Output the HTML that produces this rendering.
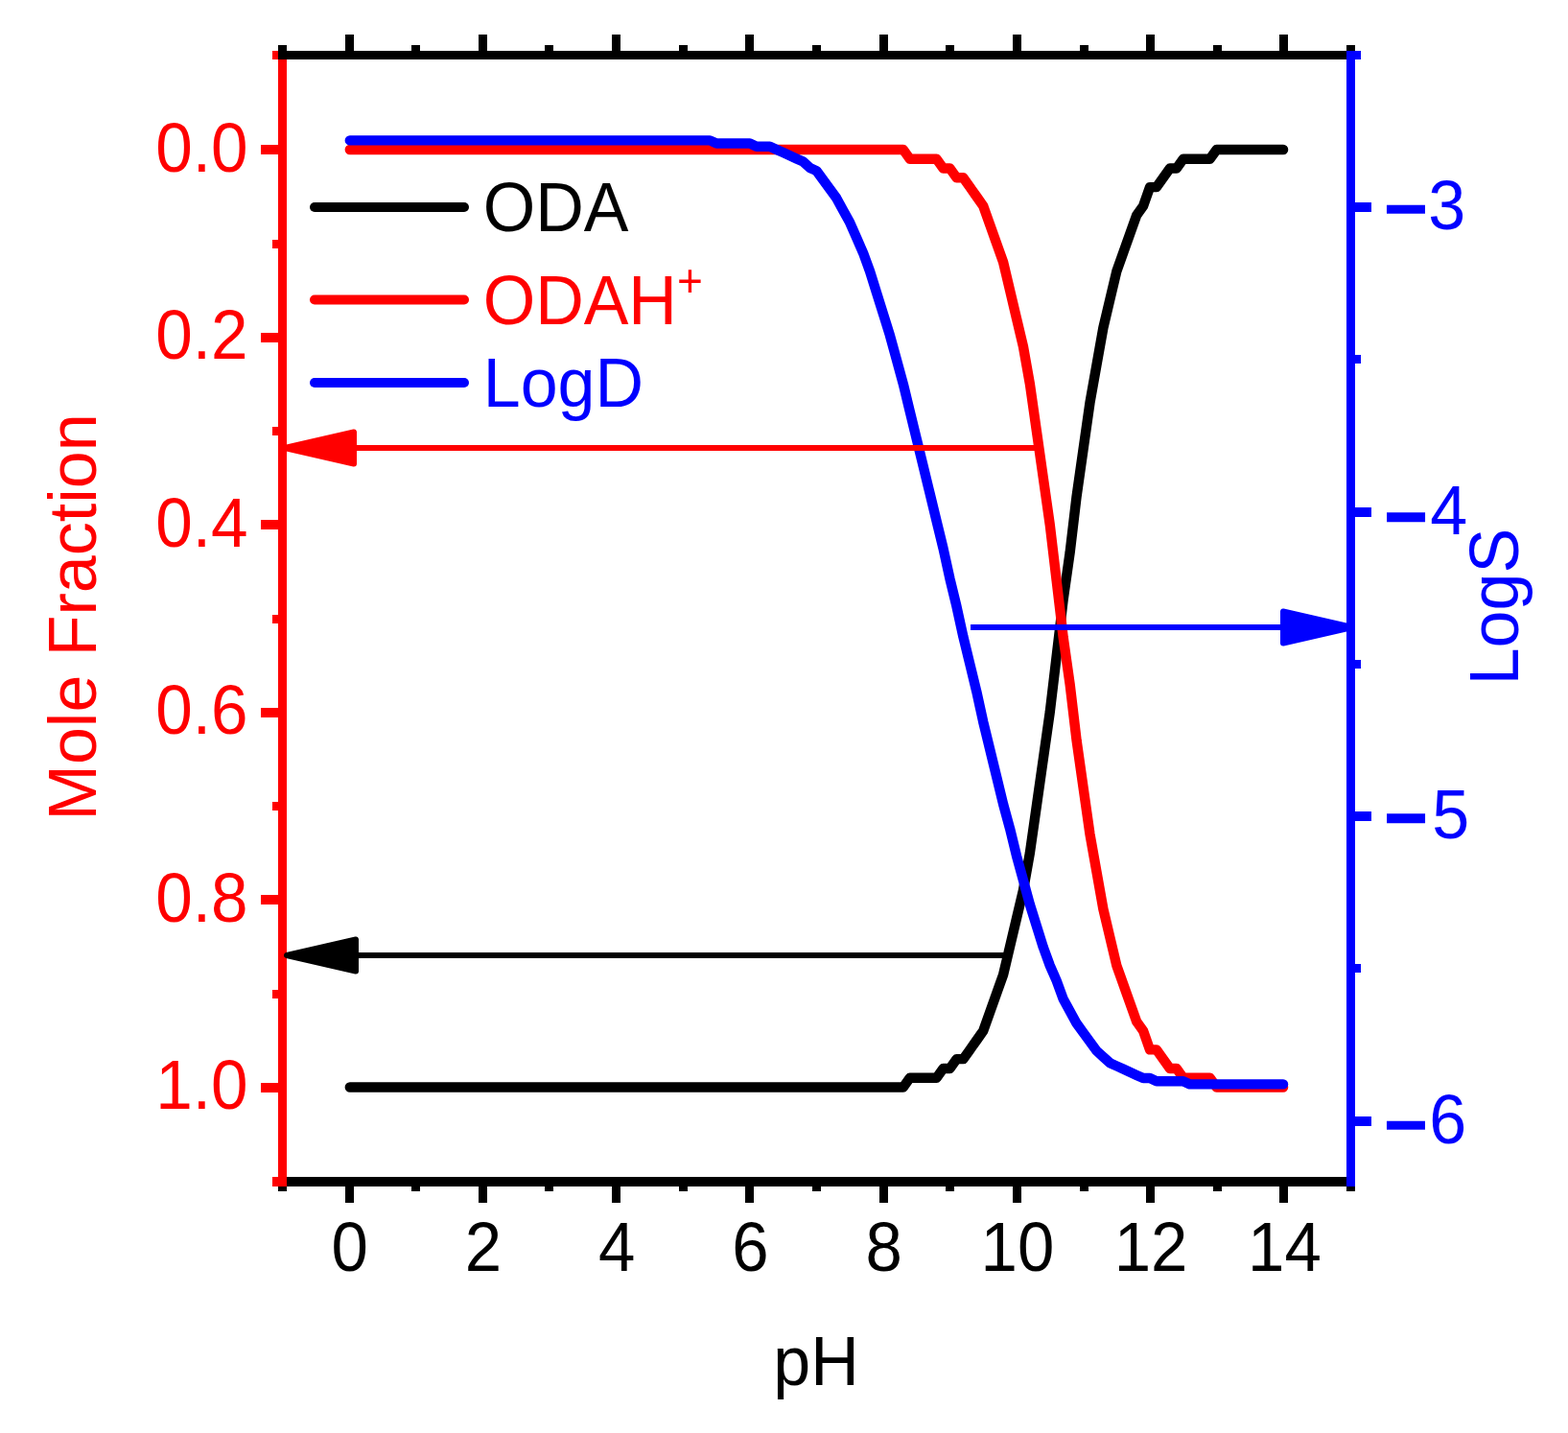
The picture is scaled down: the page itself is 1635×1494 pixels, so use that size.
<!DOCTYPE html>
<html lang="en"><head><meta charset="utf-8"><title>Mole Fraction and LogS vs pH</title>
<style>
html,body{margin:0;padding:0;background:#fff;}
body{width:1635px;height:1494px;overflow:hidden;}
svg{display:block;}
text{font-family:"Liberation Sans",Arial,Helvetica,sans-serif;font-size:70px;}
.c{fill:none;stroke-width:10.4;stroke-linejoin:round;stroke-linecap:round;}
.ax{shape-rendering:crispEdges;}
</style></head><body>
<svg width="1635" height="1494" viewBox="0 0 1635 1494">
<rect width="1635" height="1494" fill="#fff"/>
<g>
<polyline class="c" stroke="#000" points="364.80,1133.50 371.75,1133.50 378.70,1133.50 385.66,1133.50 392.61,1133.50 399.56,1133.50 406.51,1133.50 413.46,1133.50 420.42,1133.50 427.37,1133.50 434.32,1133.50 441.27,1133.50 448.22,1133.50 455.18,1133.50 462.13,1133.50 469.08,1133.50 476.03,1133.50 482.98,1133.50 489.94,1133.50 496.89,1133.50 503.84,1133.50 510.79,1133.50 517.74,1133.50 524.70,1133.50 531.65,1133.50 538.60,1133.50 545.55,1133.50 552.50,1133.50 559.46,1133.50 566.41,1133.50 573.36,1133.50 580.31,1133.50 587.26,1133.50 594.22,1133.50 601.17,1133.50 608.12,1133.50 615.07,1133.50 622.02,1133.50 628.98,1133.50 635.93,1133.50 642.88,1133.50 649.83,1133.50 656.78,1133.50 663.74,1133.50 670.69,1133.50 677.64,1133.50 684.59,1133.50 691.54,1133.50 698.50,1133.50 705.45,1133.50 712.40,1133.50 719.35,1133.50 726.30,1133.50 733.26,1133.50 740.21,1133.50 747.16,1133.50 754.11,1133.50 761.06,1133.50 768.02,1133.50 774.97,1133.50 781.92,1133.50 788.87,1133.50 795.82,1133.50 802.78,1133.50 809.73,1133.50 816.68,1133.50 823.63,1133.50 830.58,1133.50 837.54,1133.50 844.49,1133.50 851.44,1133.50 858.39,1133.50 865.34,1133.50 872.30,1133.50 879.25,1133.50 886.20,1133.50 893.15,1133.50 900.10,1133.50 907.06,1133.50 914.01,1133.50 920.96,1133.50 927.91,1133.50 934.86,1133.50 941.82,1133.50 948.77,1123.72 955.72,1123.72 962.67,1123.72 969.62,1123.72 976.58,1123.72 983.53,1113.95 990.48,1113.95 997.43,1104.17 1004.38,1104.17 1011.34,1094.40 1018.29,1084.62 1025.24,1074.85 1032.19,1055.30 1039.14,1035.75 1046.10,1016.20 1053.05,986.88 1060.00,957.55 1066.95,928.23 1073.90,889.12 1080.86,840.25 1087.81,791.38 1094.76,742.50 1101.71,683.85 1108.66,625.20 1115.62,576.33 1122.57,517.67 1129.52,468.80 1136.47,419.93 1143.42,380.82 1150.38,341.72 1157.33,312.40 1164.28,283.08 1171.23,263.52 1178.18,243.98 1185.14,224.42 1192.09,214.65 1199.04,195.10 1205.99,195.10 1212.94,185.33 1219.90,175.55 1226.85,175.55 1233.80,165.77 1240.75,165.77 1247.70,165.77 1254.66,165.77 1261.61,165.77 1268.56,156.00 1275.51,156.00 1282.46,156.00 1289.42,156.00 1296.37,156.00 1303.32,156.00 1310.27,156.00 1317.22,156.00 1324.18,156.00 1331.13,156.00 1338.08,156.00"/>
<polyline class="c" stroke="#f00" points="364.80,156.00 371.75,156.00 378.70,156.00 385.66,156.00 392.61,156.00 399.56,156.00 406.51,156.00 413.46,156.00 420.42,156.00 427.37,156.00 434.32,156.00 441.27,156.00 448.22,156.00 455.18,156.00 462.13,156.00 469.08,156.00 476.03,156.00 482.98,156.00 489.94,156.00 496.89,156.00 503.84,156.00 510.79,156.00 517.74,156.00 524.70,156.00 531.65,156.00 538.60,156.00 545.55,156.00 552.50,156.00 559.46,156.00 566.41,156.00 573.36,156.00 580.31,156.00 587.26,156.00 594.22,156.00 601.17,156.00 608.12,156.00 615.07,156.00 622.02,156.00 628.98,156.00 635.93,156.00 642.88,156.00 649.83,156.00 656.78,156.00 663.74,156.00 670.69,156.00 677.64,156.00 684.59,156.00 691.54,156.00 698.50,156.00 705.45,156.00 712.40,156.00 719.35,156.00 726.30,156.00 733.26,156.00 740.21,156.00 747.16,156.00 754.11,156.00 761.06,156.00 768.02,156.00 774.97,156.00 781.92,156.00 788.87,156.00 795.82,156.00 802.78,156.00 809.73,156.00 816.68,156.00 823.63,156.00 830.58,156.00 837.54,156.00 844.49,156.00 851.44,156.00 858.39,156.00 865.34,156.00 872.30,156.00 879.25,156.00 886.20,156.00 893.15,156.00 900.10,156.00 907.06,156.00 914.01,156.00 920.96,156.00 927.91,156.00 934.86,156.00 941.82,156.00 948.77,165.78 955.72,165.78 962.67,165.78 969.62,165.78 976.58,165.78 983.53,175.55 990.48,175.55 997.43,185.32 1004.38,185.32 1011.34,195.10 1018.29,204.88 1025.24,214.65 1032.19,234.20 1039.14,253.75 1046.10,273.30 1053.05,302.62 1060.00,331.95 1066.95,361.27 1073.90,400.38 1080.86,449.25 1087.81,498.12 1094.76,547.00 1101.71,605.65 1108.66,664.30 1115.62,713.17 1122.57,771.83 1129.52,820.70 1136.47,869.57 1143.42,908.68 1150.38,947.78 1157.33,977.10 1164.28,1006.42 1171.23,1025.97 1178.18,1045.53 1185.14,1065.08 1192.09,1074.85 1199.04,1094.40 1205.99,1094.40 1212.94,1104.17 1219.90,1113.95 1226.85,1113.95 1233.80,1123.72 1240.75,1123.72 1247.70,1123.72 1254.66,1123.72 1261.61,1123.72 1268.56,1133.50 1275.51,1133.50 1282.46,1133.50 1289.42,1133.50 1296.37,1133.50 1303.32,1133.50 1310.27,1133.50 1317.22,1133.50 1324.18,1133.50 1331.13,1133.50 1338.08,1133.50"/>
<polyline class="c" stroke="#00f" points="364.80,146.38 371.75,146.38 378.70,146.38 385.66,146.38 392.61,146.38 399.56,146.38 406.51,146.38 413.46,146.38 420.42,146.38 427.37,146.38 434.32,146.38 441.27,146.38 448.22,146.38 455.18,146.38 462.13,146.38 469.08,146.38 476.03,146.38 482.98,146.38 489.94,146.38 496.89,146.38 503.84,146.38 510.79,146.38 517.74,146.38 524.70,146.38 531.65,146.38 538.60,146.38 545.55,146.38 552.50,146.38 559.46,146.38 566.41,146.38 573.36,146.38 580.31,146.38 587.26,146.38 594.22,146.38 601.17,146.38 608.12,146.38 615.07,146.38 622.02,146.38 628.98,146.38 635.93,146.38 642.88,146.38 649.83,146.38 656.78,146.38 663.74,146.38 670.69,146.38 677.64,146.38 684.59,146.38 691.54,146.38 698.50,146.38 705.45,146.38 712.40,146.38 719.35,146.38 726.30,146.38 733.26,146.38 740.21,146.38 747.16,149.56 754.11,149.56 761.06,149.56 768.02,149.56 774.97,149.56 781.92,149.56 788.87,152.73 795.82,152.73 802.78,152.73 809.73,155.90 816.68,159.08 823.63,162.25 830.58,165.43 837.54,168.60 844.49,174.95 851.44,178.12 858.39,187.65 865.34,197.17 872.30,206.69 879.25,219.39 886.20,232.09 893.15,247.96 900.10,263.83 907.06,282.88 914.01,305.10 920.96,327.32 927.91,349.54 934.86,374.93 941.82,400.33 948.77,428.90 955.72,457.46 962.67,486.03 969.62,514.60 976.58,543.17 983.53,571.74 990.48,603.48 997.43,632.05 1004.38,663.80 1011.34,692.36 1018.29,720.93 1025.24,752.68 1032.19,781.25 1039.14,809.81 1046.10,838.38 1053.05,863.78 1060.00,892.35 1066.95,917.74 1073.90,943.14 1080.86,965.36 1087.81,987.58 1094.76,1006.62 1101.71,1022.49 1108.66,1041.54 1115.62,1054.24 1122.57,1066.94 1129.52,1076.46 1136.47,1085.98 1143.42,1095.50 1150.38,1101.85 1157.33,1108.20 1164.28,1111.38 1171.23,1114.55 1178.18,1117.72 1185.14,1120.90 1192.09,1124.07 1199.04,1124.07 1205.99,1127.25 1212.94,1127.25 1219.90,1127.25 1226.85,1127.25 1233.80,1127.25 1240.75,1130.42 1247.70,1130.42 1254.66,1130.42 1261.61,1130.42 1268.56,1130.42 1275.51,1130.42 1282.46,1130.42 1289.42,1130.42 1296.37,1130.42 1303.32,1130.42 1310.27,1130.42 1317.22,1130.42 1324.18,1130.42 1331.13,1130.42 1338.08,1130.42"/>
</g>
<g class="ax" fill="#000">
<rect x="290" y="1227" width="1123" height="10"/>
<rect x="290" y="1227" width="9" height="15"/>
<rect x="360" y="1227" width="9" height="27"/>
<rect x="429" y="1227" width="9" height="15"/>
<rect x="499" y="1227" width="9" height="27"/>
<rect x="568" y="1227" width="9" height="15"/>
<rect x="638" y="1227" width="9" height="27"/>
<rect x="708" y="1227" width="9" height="15"/>
<rect x="777" y="1227" width="9" height="27"/>
<rect x="847" y="1227" width="9" height="15"/>
<rect x="917" y="1227" width="9" height="27"/>
<rect x="986" y="1227" width="9" height="15"/>
<rect x="1056" y="1227" width="9" height="27"/>
<rect x="1126" y="1227" width="9" height="15"/>
<rect x="1195" y="1227" width="9" height="27"/>
<rect x="1265" y="1227" width="9" height="15"/>
<rect x="1334" y="1227" width="9" height="27"/>
<rect x="1404" y="1227" width="9" height="15"/>
</g>
<g class="ax" fill="#f00">
<rect x="290" y="53" width="9" height="1184"/>
<rect x="284" y="53" width="15" height="9"/>
<rect x="272" y="151" width="27" height="10"/>
<rect x="284" y="250" width="15" height="9"/>
<rect x="272" y="347" width="27" height="10"/>
<rect x="284" y="445" width="15" height="9"/>
<rect x="272" y="542" width="27" height="10"/>
<rect x="284" y="641" width="15" height="9"/>
<rect x="272" y="738" width="27" height="10"/>
<rect x="284" y="836" width="15" height="9"/>
<rect x="272" y="933" width="27" height="10"/>
<rect x="284" y="1032" width="15" height="9"/>
<rect x="272" y="1129" width="27" height="10"/>
<rect x="284" y="1227" width="15" height="10"/>
</g>
<g class="ax" fill="#000">
<rect x="290" y="53" width="1123" height="9"/>
<rect x="290" y="47" width="9" height="15"/>
<rect x="360" y="36" width="9" height="26"/>
<rect x="429" y="47" width="9" height="15"/>
<rect x="499" y="36" width="9" height="26"/>
<rect x="568" y="47" width="9" height="15"/>
<rect x="638" y="36" width="9" height="26"/>
<rect x="708" y="47" width="9" height="15"/>
<rect x="777" y="36" width="9" height="26"/>
<rect x="847" y="47" width="9" height="15"/>
<rect x="917" y="36" width="9" height="26"/>
<rect x="986" y="47" width="9" height="15"/>
<rect x="1056" y="36" width="9" height="26"/>
<rect x="1126" y="47" width="9" height="15"/>
<rect x="1195" y="36" width="9" height="26"/>
<rect x="1265" y="47" width="9" height="15"/>
<rect x="1334" y="36" width="9" height="26"/>
<rect x="1404" y="47" width="9" height="15"/>
</g>
<g class="ax" fill="#00f">
<rect x="1404" y="53" width="9" height="1184"/>
<rect x="1404" y="53" width="15" height="9"/>
<rect x="1404" y="211" width="26" height="10"/>
<rect x="1404" y="370" width="15" height="9"/>
<rect x="1404" y="529" width="26" height="10"/>
<rect x="1404" y="688" width="15" height="9"/>
<rect x="1404" y="846" width="26" height="10"/>
<rect x="1404" y="1005" width="15" height="9"/>
<rect x="1404" y="1164" width="26" height="10"/>
</g>
<g>
<line x1="369.0" y1="467.0" x2="1081.0" y2="467.0" stroke="#f00" stroke-width="6" shape-rendering="crispEdges"/><polygon points="297.0,467.0 369.0,450.5 369.0,483.5" fill="#f00" stroke="#f00" stroke-width="6" stroke-linejoin="round"/>
<line x1="371.0" y1="996.0" x2="1052.0" y2="996.0" stroke="#000" stroke-width="6" shape-rendering="crispEdges"/><polygon points="299.0,996.0 371.0,979.5 371.0,1012.5" fill="#000" stroke="#000" stroke-width="6" stroke-linejoin="round"/>
<line x1="1338.0" y1="654.0" x2="1012.0" y2="654.0" stroke="#00f" stroke-width="6" shape-rendering="crispEdges"/><polygon points="1410.0,654.0 1338.0,637.5 1338.0,670.5" fill="#00f" stroke="#00f" stroke-width="6" stroke-linejoin="round"/>
</g>
<g fill="none" stroke-width="10" stroke-linecap="round">
<line x1="328" y1="216" x2="484" y2="216" stroke="#000"/>
<line x1="328" y1="312.5" x2="484" y2="312.5" stroke="#f00"/>
<line x1="328" y1="399" x2="484" y2="399" stroke="#00f"/>
</g>
<text transform="translate(503.70,241.00) scale(1.0000,1.0400)" text-anchor="start" fill="#000">ODA</text>
<text transform="translate(503.70,338.00) scale(1.0000,1.0400)" text-anchor="start" fill="#f00">ODAH<tspan font-size="46" dy="-27.8" dx="0">+</tspan></text>
<text transform="translate(503.70,424.00) scale(1.0000,1.0250)" text-anchor="start" fill="#00f">LogD</text>
<text transform="translate(258.60,178.60) scale(0.9900,1.0400)" text-anchor="end" fill="#f00">0.0</text>
<text transform="translate(258.60,374.10) scale(0.9900,1.0400)" text-anchor="end" fill="#f00">0.2</text>
<text transform="translate(258.60,569.60) scale(0.9900,1.0400)" text-anchor="end" fill="#f00">0.4</text>
<text transform="translate(258.60,765.10) scale(0.9900,1.0400)" text-anchor="end" fill="#f00">0.6</text>
<text transform="translate(258.60,960.60) scale(0.9900,1.0400)" text-anchor="end" fill="#f00">0.8</text>
<text transform="translate(258.60,1156.10) scale(0.9900,1.0400)" text-anchor="end" fill="#f00">1.0</text>
<text transform="translate(364.62,1324.50) scale(0.9850,1.0400)" text-anchor="middle" fill="#000">0</text>
<text transform="translate(503.88,1324.50) scale(0.9850,1.0400)" text-anchor="middle" fill="#000">2</text>
<text transform="translate(643.12,1324.50) scale(0.9850,1.0400)" text-anchor="middle" fill="#000">4</text>
<text transform="translate(782.38,1324.50) scale(0.9850,1.0400)" text-anchor="middle" fill="#000">6</text>
<text transform="translate(921.62,1324.50) scale(0.9850,1.0400)" text-anchor="middle" fill="#000">8</text>
<text transform="translate(1060.88,1324.50) scale(0.9850,1.0400)" text-anchor="middle" fill="#000">10</text>
<text transform="translate(1200.12,1324.50) scale(0.9850,1.0400)" text-anchor="middle" fill="#000">12</text>
<text transform="translate(1339.38,1324.50) scale(0.9850,1.0400)" text-anchor="middle" fill="#000">14</text>
<text transform="translate(1441.94,260.48) scale(1.1762,1.8035)" text-anchor="start" fill="#00f">−</text>
<text transform="translate(1489.23,239.00) scale(1.0000,1.0400)" text-anchor="start" fill="#00f">3</text>
<text transform="translate(1441.94,585.64) scale(1.1762,2.0039)" text-anchor="start" fill="#00f">−</text>
<text transform="translate(1491.29,557.00) scale(1.0000,1.0400)" text-anchor="start" fill="#00f">4</text>
<text transform="translate(1441.94,899.64) scale(1.1762,2.0039)" text-anchor="start" fill="#00f">−</text>
<text transform="translate(1493.20,874.00) scale(1.0000,1.0400)" text-anchor="start" fill="#00f">5</text>
<text transform="translate(1441.94,1215.48) scale(1.1762,1.8035)" text-anchor="start" fill="#00f">−</text>
<text transform="translate(1490.25,1192.00) scale(1.0000,1.0400)" text-anchor="start" fill="#00f">6</text>
<text transform="translate(851.00,1444.00) scale(1.0000,1.0250)" text-anchor="middle" fill="#000">pH</text>
<text transform="translate(100.00,643.40) rotate(-90) scale(1.0000,1.0000)" text-anchor="middle" fill="#f00">Mole Fraction</text>
<text transform="translate(1583.00,632.60) rotate(-90) scale(1.0000,1.0250)" text-anchor="middle" fill="#00f">LogS</text>
</svg>
</body></html>
